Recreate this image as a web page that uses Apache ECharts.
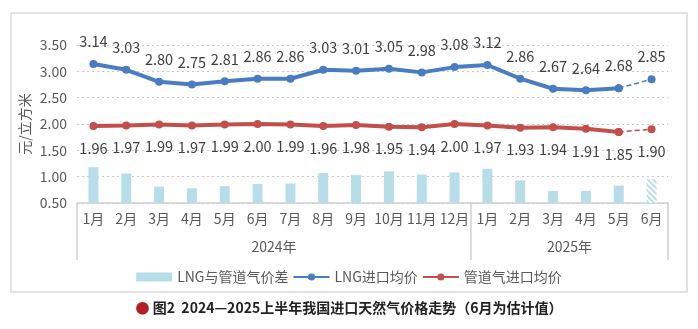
<!DOCTYPE html>
<html><head><meta charset="utf-8">
<script src="https://cdn.jsdelivr.net/npm/echarts@6/dist/echarts.min.js"></script>
<style>html,body{margin:0;padding:0;background:#fff}#c{width:698px;height:329px}</style>
</head><body><div id="c"></div>
<script>
const months = ['1月','2月','3月','4月','5月','6月','7月','8月','9月','10月','11月','12月','1月','2月','3月','4月','5月','6月'];
const years = ['2024年','2025年'];
const lngPrice = [3.14,3.03,2.80,2.75,2.81,2.86,2.86,3.03,3.01,3.05,2.98,3.08,3.12,2.86,2.67,2.64,2.68,2.85];
const pipePrice = [1.96,1.97,1.99,1.97,1.99,2.00,1.99,1.96,1.98,1.95,1.94,2.00,1.97,1.93,1.94,1.91,1.85,1.90];
const priceGap = [1.18,1.06,0.81,0.78,0.82,0.86,0.87,1.07,1.03,1.10,1.04,1.08,1.15,0.93,0.73,0.73,0.83,0.95];
const yTicks = [0.5,1.0,1.5,2.0,2.5,3.0,3.5];

const FONT = '"Noto Sans CJK SC","Noto Sans",sans-serif';
const BLUE = '#4a7cc2', RED = '#c24f4c', BAR = '#b7dee8';
const n = months.length;
const estIdx = n - 1;

const solid = arr => arr.map((v,i)=> i < estIdx ? v : null);
const dashed = arr => arr.map((v,i)=> i >= estIdx-1 ? v : null);

const barData = priceGap.map((v,i)=> i === estIdx ? {
  value: v,
  itemStyle: { color: '#ffffff', decal: { symbol:'rect', dashArrayX:[1,0], dashArrayY:[2,2], rotation: Math.PI/4, color: BAR, symbolSize:1 } }
} : v);

const lbl = (pos, onlyLast) => ({
  show:true, position:pos, distance:11, color:'#404040', fontSize:14.5, fontFamily:FONT,
  formatter:p=> (p.value==null || (onlyLast && p.dataIndex!==estIdx)) ? '' : Number(p.value).toFixed(2)
});

const chart = echarts.init(document.getElementById('c'));
chart.setOption({
  animation:false,
  textStyle:{fontFamily:FONT},
  graphic:[{type:'rect', shape:{x:11,y:13,width:676,height:279}, style:{fill:'none', stroke:'#d9d9d9', lineWidth:1.5}, silent:true}],
  title:{
    text:'{dot|●}{t| 图2  2024—2025上半年我国进口天然气价格走势（6月为估计值）}',
    left:'center', top:296,
    textStyle:{rich:{
      dot:{color:'#b41f24', fontSize:14, fontFamily:FONT},
      t:{color:'#222', fontSize:14, fontWeight:'bold', fontFamily:FONT}
    }}
  },
  grid:{left:77, right:30, top:45, bottom:126, containLabel:false},
  legend:{
    bottom:40, left:'center', itemGap:4, itemWidth:36, itemHeight:9,
    textStyle:{color:'#595959', fontSize:14, fontFamily:FONT},
    data:[
      {name:'LNG与管道气价差', icon:'rect'},
      {name:'LNG进口均价'},
      {name:'管道气进口均价'}
    ]
  },
  xAxis:[{
    type:'category', data:months, position:'bottom',
    axisLine:{lineStyle:{color:'#d0d0d0', width:1.5}},
    axisTick:{show:false},
    axisLabel:{color:'#595959', fontSize:14, margin:9, fontFamily:FONT, interval:0}
  },{
    type:'value', min:0, max:n, position:'bottom',
    axisLine:{show:false},
    splitLine:{show:false},
    axisTick:{show:true, customValues:[0,12,n], length:57, lineStyle:{color:'#d0d0d0', width:1.5}},
    axisLabel:{customValues:[6,15], formatter:v=> v===6?years[0]:years[1], color:'#595959', fontSize:14, margin:37, fontFamily:FONT}
  }],
  yAxis:{
    type:'value', min:yTicks[0], max:yTicks[yTicks.length-1], interval:0.5,
    name:'元/立方米', nameLocation:'middle', nameRotate:90, nameGap:45, nameMoveOverlap:false,
    nameTextStyle:{color:'#595959', fontSize:14, fontFamily:FONT},
    axisLine:{show:false}, axisTick:{show:false},
    axisLabel:{color:'#595959', fontSize:14, margin:10, formatter:v=>v.toFixed(2), fontFamily:FONT},
    splitLine:{lineStyle:{color:'#c8c8c8', type:[2,3], width:1.2}}
  },
  series:[
    {name:'LNG与管道气价差', type:'bar', data:barData, barWidth:10, itemStyle:{color:BAR}, xAxisIndex:0},
    {name:'LNG进口均价', type:'line', data:solid(lngPrice), xAxisIndex:0, z:3,
      symbol:'circle', symbolSize:8, itemStyle:{color:BLUE}, lineStyle:{color:BLUE, width:4},
      label:lbl('top', false)},
    {name:'LNG进口均价_est', type:'line', data:dashed(lngPrice), xAxisIndex:0, z:3,
      symbol:'circle', symbolSize:8, itemStyle:{color:BLUE}, lineStyle:{color:BLUE, width:1.5, type:[5,3]},
      label:lbl('top', true)},
    {name:'管道气进口均价', type:'line', data:solid(pipePrice), xAxisIndex:0, z:3,
      symbol:'circle', symbolSize:8, itemStyle:{color:RED}, lineStyle:{color:RED, width:4},
      label:lbl('bottom', false)},
    {name:'管道气进口均价_est', type:'line', data:dashed(pipePrice), xAxisIndex:0, z:3,
      symbol:'circle', symbolSize:8, itemStyle:{color:RED}, lineStyle:{color:RED, width:1.5, type:[5,3]},
      label:lbl('bottom', true)}
  ]
});
</script></body></html>
